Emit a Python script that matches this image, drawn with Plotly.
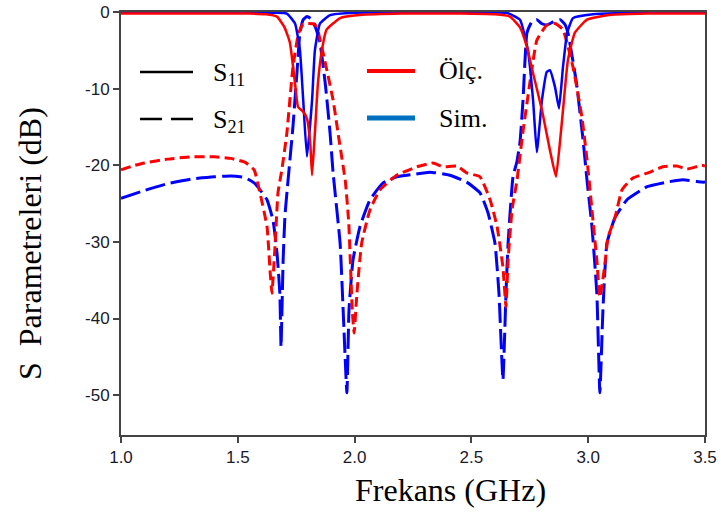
import plotly.graph_objects as go

# ---------------- data ----------------
# S21 measured (red dashed)
s21_meas_f = [1.00, 1.05, 1.10, 1.20, 1.30, 1.40, 1.47, 1.53, 1.57, 1.595, 1.625, 1.638, 1.646,
              1.66, 1.672, 1.689, 1.71, 1.736, 1.76, 1.78, 1.80, 1.83, 1.845, 1.87, 1.908, 1.935,
              1.96, 1.975, 1.99, 1.998, 2.01, 2.03, 2.066, 2.109, 2.18, 2.267, 2.336, 2.378,
              2.438, 2.48, 2.537, 2.58, 2.61, 2.635, 2.648, 2.657, 2.674, 2.695, 2.72, 2.75,
              2.78, 2.823, 2.858, 2.892, 2.935, 2.973, 2.995, 3.016, 3.037, 3.05, 3.07, 3.085,
              3.115, 3.145, 3.19, 3.265, 3.32, 3.38, 3.423, 3.487, 3.50]
s21_meas_db = [-20.6, -20.1, -19.7, -19.2, -18.9, -18.9, -19.1, -19.6, -20.6, -23.6, -28.0, -33.7, -36.7,
               -30.2, -23.6, -20.5, -15.8, -7.2, -2.8, -1.6, -1.5, -1.6, -2.7, -6.0, -11.5, -17.0,
               -22.0, -27.5, -38.9, -41.9, -36.7, -30.2, -25.8, -23.2, -21.3, -20.2, -19.7, -20.2,
               -20.1, -21.0, -21.5, -24.5, -28.0, -33.3, -38.5, -32.4, -25.8, -22.0, -15.8, -9.3,
               -3.7, -1.7, -1.5, -2.3, -7.2, -13.7, -19.3, -25.8, -32.4, -37.2, -33.3, -29.4,
               -26.8, -23.2, -21.7, -20.9, -20.2, -20.1, -20.5, -20.0, -20.1]

# S21 simulated (blue dashed)
s21_sim_f = [1.00, 1.10, 1.20, 1.30, 1.40, 1.47, 1.53, 1.57, 1.60, 1.625, 1.651, 1.668, 1.68, 1.685,
             1.694, 1.702, 1.715, 1.736, 1.753, 1.766, 1.78, 1.796, 1.815, 1.835, 1.852, 1.875,
             1.895, 1.908, 1.938, 1.951, 1.967, 1.976, 1.993, 2.023, 2.066, 2.122, 2.18, 2.25,
             2.323, 2.408, 2.48, 2.537, 2.571, 2.601, 2.618, 2.635, 2.648, 2.657, 2.678, 2.695,
             2.708, 2.721, 2.738, 2.76, 2.78, 2.80, 2.823, 2.85, 2.88, 2.9, 2.913, 2.95, 2.978,
             2.995, 3.016, 3.037, 3.05, 3.063, 3.08, 3.115, 3.166, 3.252, 3.337, 3.406, 3.487, 3.50]
s21_sim_db = [-24.3, -23.3, -22.4, -21.8, -21.5, -21.4, -21.6, -22.3, -23.4, -24.5, -27.2, -31.5, -36.7, -43.7,
              -32.4, -26.5, -22.0, -15.0, -8.0, -2.7, -1.0, -0.6, -0.9, -2.2, -4.0, -9.5,
              -15.8, -21.0, -30.2, -38.9, -49.7, -38.9, -32.4, -28.0, -24.5, -22.3, -21.5, -21.2,
              -20.9, -21.3, -22.2, -23.6, -26.2, -30.2, -36.7, -48.0, -36.7, -30.2, -21.5, -19.5,
              -17.0, -11.5, -2.7, -1.2, -1.0, -1.5, -1.7, -1.3, -1.0, -1.6, -2.7, -9.3, -16.7,
              -22.0, -28.0, -36.7, -49.7, -38.9, -30.2, -26.8, -24.5, -22.8, -22.2, -21.9, -22.2, -22.2]

# S11 measured (red solid)
s11_meas_f = [1.00, 1.20, 1.40, 1.55, 1.62, 1.668, 1.70, 1.723, 1.745, 1.758, 1.78, 1.796, 1.81,
              1.818, 1.83, 1.843, 1.86, 1.88, 1.938, 2.02, 2.20, 2.45, 2.60, 2.665, 2.708, 2.738,
              2.764, 2.802, 2.836, 2.862, 2.88, 2.896, 2.913, 2.943, 2.995, 3.09, 3.25, 3.50]
s11_meas_db = [-0.2, -0.2, -0.2, -0.2, -0.3, -0.6, -2.0, -4.0, -9.3, -12.4, -13.0, -13.9, -17.1,
               -21.3, -15.8, -9.3, -5.0, -2.3, -0.8, -0.4, -0.2, -0.2, -0.3, -0.6, -2.0, -4.6,
               -8.0, -12.8, -18.0, -21.5, -16.7, -11.5, -6.3, -2.7, -1.0, -0.4, -0.2, -0.2]

# S11 simulated (blue solid)
s11_sim_f = [1.00, 1.40, 1.65, 1.71, 1.745, 1.766, 1.78, 1.796, 1.818, 1.83, 1.852, 1.895, 2.00,
             2.40, 2.65, 2.708, 2.742, 2.764, 2.78, 2.802, 2.823, 2.836, 2.858, 2.875, 2.892,
             2.91, 2.935, 3.02, 3.20, 3.50]
s11_sim_db = [-0.05, -0.05, -0.1, -0.2, -1.5, -5.0, -11.5, -18.9, -11.5, -5.0, -1.5, -0.4, -0.1,
              -0.05, -0.1, -1.0, -5.0, -11.5, -18.3, -11.5, -7.8, -7.6, -9.8, -12.6, -7.2,
              -2.7, -0.8, -0.3, -0.1, -0.05]

x_ticks = [1.0, 1.5, 2.0, 2.5, 3.0, 3.5]
y_ticks = [0, -10, -20, -30, -40, -50]
y_tick_text = ["0", "-10", "-20", "-30", "-40", "-50"]

RED = "#FF0000"
BLUE = "#0000FF"
SIM_LEG = "#0070C0"

fig = go.Figure()
fig.add_trace(go.Scatter(x=s21_sim_f, y=s21_sim_db, mode="lines",
                         line=dict(color=BLUE, width=3, dash="20px,6px", shape="spline", smoothing=0.4)))
fig.add_trace(go.Scatter(x=s21_meas_f, y=s21_meas_db, mode="lines",
                         line=dict(color=RED, width=3, dash="10px,5px", shape="spline", smoothing=0.4)))
fig.add_trace(go.Scatter(x=s11_sim_f, y=s11_sim_db, mode="lines",
                         line=dict(color=BLUE, width=2.5, shape="spline", smoothing=0.4)))
fig.add_trace(go.Scatter(x=s11_meas_f, y=s11_meas_db, mode="lines",
                         line=dict(color=RED, width=2.5, shape="spline", smoothing=0.4)))

AX = "#444444"
TICKF = dict(family="Liberation Sans, Arial", size=17, color="#1a1a2a")
fig.update_xaxes(range=[1.0, 3.5], tickvals=x_ticks, tickformat=".1f",
                 showline=True, linecolor=AX, linewidth=2, mirror=True,
                 ticks="outside", ticklen=6, tickwidth=1.5, tickcolor=AX,
                 showgrid=False, zeroline=False, automargin=False, tickfont=TICKF)
fig.update_yaxes(range=[-55.2, 0], tickvals=y_ticks, ticktext=y_tick_text,
                 showline=True, linecolor=AX, linewidth=2, mirror=True,
                 ticks="outside", ticklen=6, tickwidth=1.5, tickcolor=AX,
                 showgrid=False, zeroline=False, automargin=False, tickfont=TICKF)

# legend drawn inside the plot area
def px2x(px):
    return (px - 121) / 584.0

def py2y(py):
    return (435 - py) / 423.0

shapes = [
    dict(type="line", xref="paper", yref="paper", x0=px2x(140), x1=px2x(193), y0=py2y(72), y1=py2y(72),
         line=dict(color="#000", width=2.5)),
    dict(type="line", xref="paper", yref="paper", x0=px2x(140), x1=px2x(193), y0=py2y(119), y1=py2y(119),
         line=dict(color="#000", width=2.5, dash="22px,9px")),
    dict(type="line", xref="paper", yref="paper", x0=px2x(367), x1=px2x(415), y0=py2y(71), y1=py2y(71),
         line=dict(color=RED, width=4)),
    dict(type="line", xref="paper", yref="paper", x0=px2x(367), x1=px2x(415), y0=py2y(118), y1=py2y(118),
         line=dict(color=SIM_LEG, width=5)),
]
LF = dict(family="Liberation Serif, Times New Roman", size=26, color="#000")
TF = dict(family="Liberation Serif, Times New Roman", size=32, color="#000")
annos = [
    dict(text="S<sub>11</sub>", x=px2x(211), y=py2y(74), xref="paper", yref="paper",
         xanchor="left", yanchor="middle", showarrow=False, font=LF),
    dict(text="S<sub>21</sub>", x=px2x(211), y=py2y(121), xref="paper", yref="paper",
         xanchor="left", yanchor="middle", showarrow=False, font=LF),
    dict(text="Ölç.", x=px2x(437), y=py2y(70), xref="paper", yref="paper",
         xanchor="left", yanchor="middle", showarrow=False, font=LF),
    dict(text="Sim.", x=px2x(437), y=py2y(118), xref="paper", yref="paper",
         xanchor="left", yanchor="middle", showarrow=False, font=LF),
    # axis titles
    dict(text="Frekans (GHz)", x=px2x(450), y=py2y(490), xref="paper", yref="paper",
         xanchor="center", yanchor="middle", showarrow=False, font=TF),
    dict(text="S  Parametreleri (dB)", x=px2x(30), y=py2y(244), xref="paper", yref="paper",
         xanchor="center", yanchor="middle", textangle=-90, showarrow=False, font=TF),
]

fig.update_layout(width=721, height=514, showlegend=False, autosize=False,
                  margin=dict(l=121, r=16, t=12, b=79, autoexpand=False),
                  paper_bgcolor="white", plot_bgcolor="white",
                  shapes=shapes, annotations=annos)

fig.write_html("out.html")
